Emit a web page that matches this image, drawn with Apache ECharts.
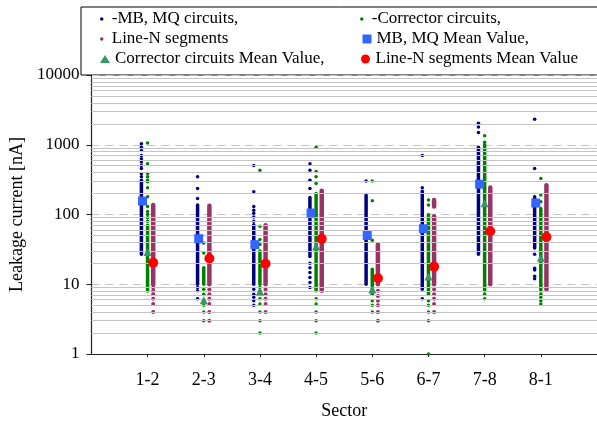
<!DOCTYPE html>
<html>
<head>
<meta charset="utf-8">
<script src="https://cdn.jsdelivr.net/npm/echarts@6/dist/echarts.min.js"></script>
<style>
  html, body { margin: 0; padding: 0; background: #fff; }
  #chart { width: 597px; height: 425px; }
</style>
</head>
<body>
<div id="chart"></div>
<script>
// sectors on the x axis
var sectors = ['1-2', '2-3', '3-4', '4-5', '5-6', '6-7', '7-8', '8-1'];

// single readings, one list per sector (nA)
var mbDots = [
  [1030, 922, 824, 700, 630, 565, 505, 455, 385, 347, 310],
  [347, 236, 170, 9.0, 8.1, 6.2],
  [505, 212, 130, 115, 104, 92, 80, 8.5, 7.2, 6.5, 5.8, 5.0],
  [534, 430, 310, 236, 20, 17.3, 14.7, 12.5, 10.6, 9.0],
  [303],
  [700, 242, 6.2],
  [2040, 1790, 1500],
  [2320, 455, 27, 17, 16, 13, 12]
];
var corrDots = [
  [1060, 534, 386, 347, 310, 295, 242, 180, 130, 110, 100, 90, 80],
  [39, 28, 8.5, 7.2, 5.8, 5.0, 4.0, 3.0],
  [430, 67.6, 43.7, 37, 9.0, 8.1, 7.2, 6.2, 5.2, 4.0, 3.0, 2.0],
  [922, 415, 347, 278, 8.1, 6.2, 5.2, 4.0, 3.0, 2.0],
  [303, 158, 42.8, 7.2, 5.8, 5.0, 4.0],
  [161, 137, 5.8, 5.0, 4.0, 3.0, 1.0],
  [1345, 1085, 7.2, 6.2],
  [327, 190, 152, 7.2, 6.5, 5.8, 5.2]
];
var lineDots = [
  [9.0, 8.1, 7.2, 6.2, 5.2, 4.0],
  [8.5, 7.2, 6.2, 5.2, 4.0, 3.0],
  [8.5, 7.2, 6.2, 5.2, 4.0],
  [],
  [8.1, 6.8, 5.8, 5.0, 4.0, 3.0],
  [8.5, 7.2, 6.2, 5.2, 4.0],
  [],
  []
];

// ranges where the readings are so dense they merge into a column [low, high]
var mbBands = [
  [[27, 300]], [[10, 137]], [[10, 71]], [[25, 175]],
  [[10, 190]], [[8.5, 215]], [[27, 922]], [[33, 180]]
];
var corrBands = [
  [[8, 70]], [[10, 17.3]], [[10, 30]], [[8.5, 200]],
  [[8.1, 16.4]], [[7.2, 99]], [[8, 1000]], [[8, 122]]
];
var lineBands = [
  [[10, 137]], [[10, 134]], [[10, 70]], [[8.1, 219]],
  [[10, 37]], [[130, 161], [10, 94]], [[10, 244]], [[8.5, 262]]
];

// mean values per sector
var mbMean = [156, 45, 37, 105, 50, 62.5, 272, 146];
var corrMean = [28.9, 5.9, 7.9, 35, 8.4, 12.9, 145, 24];
var lineMean = [20.4, 23.4, 19.7, 45, 12.2, 17.9, 57.4, 47.7];

// y tick labels and minor grid lines
var yTicks = [1, 10, 100, 1000, 10000];
var minorLines = [2, 3, 4, 5, 6, 7, 8, 9, 20, 30, 40, 50, 60, 70, 80, 90,
  200, 300, 400, 500, 600, 700, 800, 900, 2000, 3000, 4000, 5000, 6000, 7000, 8000, 9000];

var FONT = 'Liberation Serif';
var C_MB = '#000080', C_CORR = '#008000', C_LINE = '#993366';

function dots(list, off) {
  var out = [];
  list.forEach(function (vals, i) {
    vals.forEach(function (v) { out.push([i + 1 + off, v]); });
  });
  return out;
}
function bands(list, off) {
  var out = [];
  list.forEach(function (rs, i) {
    rs.forEach(function (r) { out.push([i + 1 + off, r[0], r[1]]); });
  });
  return out;
}
function means(vals, off) {
  return vals.map(function (v, i) { return [i + 1 + off, v]; });
}
function bandSeries(data, color, w) {
  return {
    type: 'custom',
    z: 3,
    silent: true,
    encode: { x: 0, y: [1, 2] },
    data: data,
    renderItem: function (params, api) {
      var a = api.coord([api.value(0), api.value(1)]);
      var b = api.coord([api.value(0), api.value(2)]);
      return {
        type: 'line',
        shape: { x1: a[0], y1: a[1], x2: b[0], y2: b[1] },
        style: { stroke: color, lineWidth: w, lineCap: 'round' }
      };
    }
  };
}
function oneLegend(name, left, top, w, h) {
  return {
    data: [name],
    left: left, top: top,
    padding: 0,
    itemWidth: w, itemHeight: h,
    selectedMode: false,
    textStyle: { fontFamily: FONT, fontSize: 17, color: '#000' }
  };
}

var myChart = echarts.init(document.getElementById('chart'));
myChart.setOption({
  animation: false,
  grid: { left: 81, right: 0, top: 75, bottom: 68 },
  graphic: [{
    type: 'rect', z: 0,
    shape: { x: 81, y: 7, width: 530, height: 68 },
    style: { fill: '#fff', stroke: '#000', lineWidth: 1 }
  }],
  legend: [
    oneLegend('-MB, MQ circuits,', 100, 10.5, 10, 3.5),
    oneLegend('Line-N segments', 100, 30.5, 10, 3.5),
    oneLegend('Corrector circuits Mean Value,', 100, 50.5, 10, 8),
    oneLegend('-Corrector circuits,', 360, 10.5, 10, 3.5),
    oneLegend('MB, MQ Mean Value,', 362.5, 30.5, 9, 9),
    oneLegend('Line-N segments Mean Value', 361, 50.5, 10, 9)
  ],
  xAxis: {
    type: 'value',
    min: 0, max: 9, interval: 1,
    name: 'Sector',
    nameLocation: 'middle',
    nameGap: 48,
    nameTextStyle: { fontFamily: FONT, fontSize: 18, color: '#000' },
    axisLine: { lineStyle: { color: '#222', width: 1.2 } },
    axisTick: { length: 3, lineStyle: { color: '#222' },
      customValues: sectors.map(function (s, i) { return i + 1; }) },
    axisLabel: {
      margin: 17,
      fontFamily: FONT, fontSize: 18, color: '#000',
      customValues: sectors.map(function (s, i) { return i + 1; }),
      formatter: function (v) { return sectors[v - 1] || ''; }
    },
    splitLine: { show: false }
  },
  yAxis: {
    type: 'log',
    logBase: 10,
    min: 1, max: 10000,
    name: 'Leakage current [nA]',
    nameLocation: 'middle',
    nameGap: 55,
    nameTextStyle: { fontFamily: FONT, fontSize: 18, color: '#000' },
    axisLine: { show: true, lineStyle: { color: '#222', width: 1.2 } },
    axisTick: { show: true, length: 5, lineStyle: { color: '#222' } },
    axisLabel: {
      margin: 12,
      fontFamily: FONT, fontSize: 17, color: '#000',
      formatter: function (v) { return yTicks.indexOf(v) >= 0 ? String(v) : ''; }
    },
    splitLine: { show: true, lineStyle: { color: '#c4c4c4', type: [8, 6], width: 1 } }
  },
  series: [
    // minor grid lines
    {
      type: 'scatter', z: 1, silent: true, data: [],
      markLine: {
        silent: true, symbol: 'none', animation: false,
        label: { show: false },
        lineStyle: { color: '#c4c4c4', type: 'solid', width: 1 },
        data: minorLines.map(function (v) { return { yAxis: v }; })
      }
    },
    bandSeries(bands(mbBands, -0.11), C_MB, 3.5),
    bandSeries(bands(corrBands, 0), C_CORR, 3.5),
    bandSeries(bands(lineBands, 0.1), C_LINE, 4.5),
    { name: '-MB, MQ circuits,', type: 'scatter', z: 3, symbol: 'circle', symbolSize: 3.5,
      itemStyle: { color: C_MB, opacity: 1 }, data: dots(mbDots, -0.11) },
    { name: '-Corrector circuits,', type: 'scatter', z: 3, symbol: 'circle', symbolSize: 3.5,
      itemStyle: { color: C_CORR, opacity: 1 }, data: dots(corrDots, 0) },
    { name: 'Line-N segments', type: 'scatter', z: 3, symbol: 'circle', symbolSize: 4,
      itemStyle: { color: C_LINE, opacity: 1 }, data: dots(lineDots, 0.1) },
    { name: 'MB, MQ Mean Value,', type: 'scatter', z: 5, symbol: 'rect', symbolSize: 9,
      itemStyle: { color: '#3366ff', opacity: 1 }, data: means(mbMean, -0.09) },
    { name: 'Corrector circuits Mean Value,', type: 'scatter', z: 5, symbol: 'triangle', symbolSize: 8,
      itemStyle: { color: '#339966', opacity: 1 }, data: means(corrMean, 0) },
    { name: 'Line-N segments Mean Value', type: 'scatter', z: 5, symbol: 'circle', symbolSize: 10,
      itemStyle: { color: '#ff0000', opacity: 1 }, data: means(lineMean, 0.1) }
  ]
});
window.onresize = function () { myChart.resize(); };
</script>
</body>
</html>
